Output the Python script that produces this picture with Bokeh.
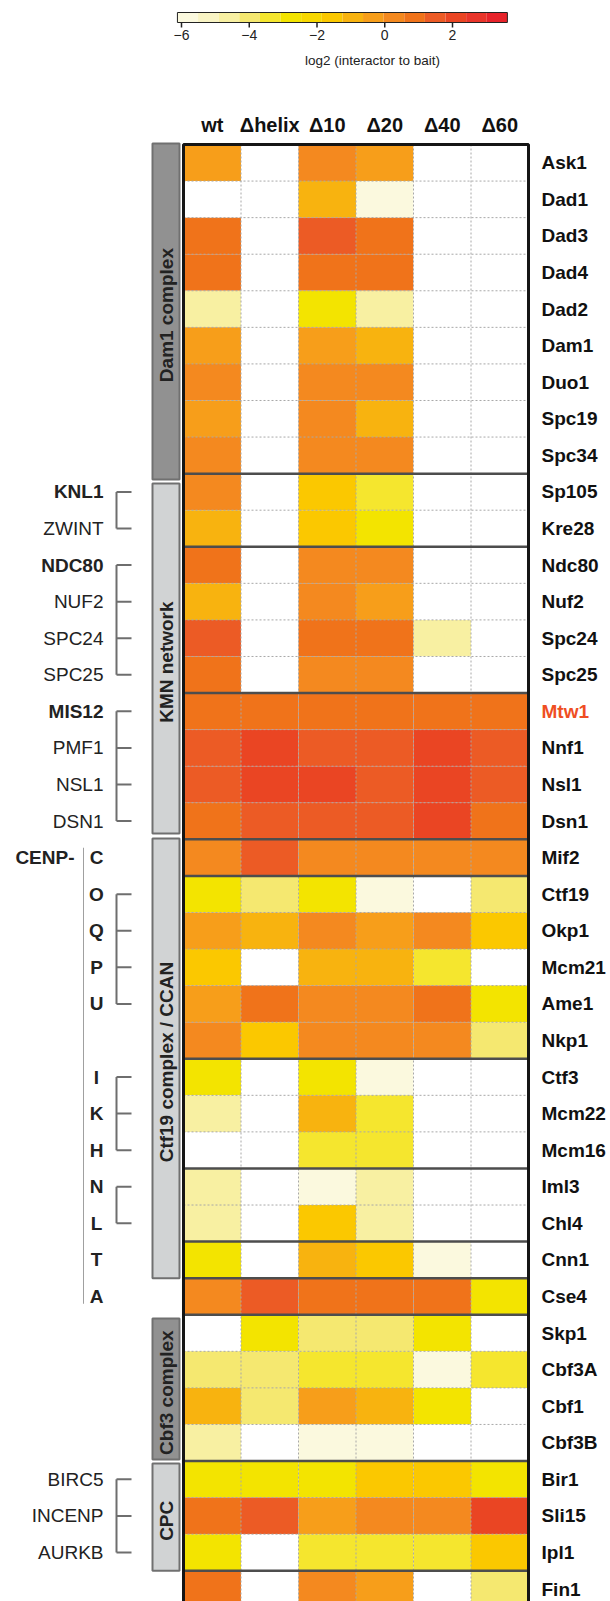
import numpy as np
from bokeh.plotting import figure
from bokeh.models import Range1d, ColumnDataSource, LinearColorMapper
from bokeh.embed import file_html
from bokeh.resources import INLINE
from bokeh.core.properties import value

N = np.nan

# ---------------- data ----------------
columns = ["wt", "Δhelix", "Δ10", "Δ20", "Δ40", "Δ60"]

proteins = ["Ask1", "Dad1", "Dad3", "Dad4", "Dad2", "Dam1", "Duo1", "Spc19", "Spc34",
            "Sp105", "Kre28", "Ndc80", "Nuf2", "Spc24", "Spc25",
            "Mtw1", "Nnf1", "Nsl1", "Dsn1", "Mif2",
            "Ctf19", "Okp1", "Mcm21", "Ame1", "Nkp1", "Ctf3", "Mcm22", "Mcm16",
            "Iml3", "Chl4", "Cnn1", "Cse4",
            "Skp1", "Cbf3A", "Cbf1", "Cbf3B", "Bir1", "Sli15", "Ipl1", "Fin1"]

wt =     [-0.3, N, 0.9, 0.9, -4.6, -0.3, 0.3, -0.3, 0.3,
          0.3, -1.0, 0.9, -1.0, 1.5, 0.9,
          0.9, 1.5, 1.5, 0.9, 0.3,
          -2.8, -0.3, -1.6, -0.3, 0.3, -2.8, -4.6, N,
          -4.6, -4.6, -2.8, 0.3,
          N, -4.0, -1.0, -4.6, -2.8, 0.9, -2.8, 0.9]
dhelix = [N, N, N, N, N, N, N, N, N,
          N, N, N, N, N, N,
          0.9, 2.1, 2.1, 1.5, 1.5,
          -4.0, -1.0, N, 0.9, -1.6, N, N, N,
          N, N, N, 1.5,
          -2.8, -4.0, -4.0, N, -2.8, 1.5, N, N]
d10 =    [0.3, -1.0, 1.5, 0.9, -2.8, -0.3, 0.3, 0.3, 0.3,
          -1.6, -1.6, 0.3, 0.3, 0.9, 0.3,
          0.9, 1.5, 2.1, 1.5, 0.3,
          -2.8, 0.3, -1.0, 0.3, 0.3, -2.8, -1.0, -3.4,
          -5.8, -1.6, -1.0, 0.9,
          -4.0, -3.4, -0.3, -5.8, -2.8, -0.3, -3.4, 0.3]
d20 =    [-0.3, -5.8, 0.9, 0.9, -4.6, -1.0, 0.3, -1.0, 0.3,
          -3.4, -2.8, 0.3, -0.3, 0.9, 0.3,
          0.9, 1.5, 1.5, 1.5, 0.3,
          -5.8, -0.3, -1.0, 0.3, 0.3, -5.8, -3.4, -3.4,
          -4.6, -4.6, -1.6, 0.9,
          -4.0, -3.4, -1.0, -5.8, -1.6, 0.3, -3.4, -0.3]
d40 =    [N, N, N, N, N, N, N, N, N,
          N, N, N, N, -4.6, N,
          0.9, 2.1, 2.1, 2.1, 0.3,
          N, 0.3, -3.4, 0.9, 0.3, N, N, N,
          N, N, -5.8, 0.9,
          -2.8, -5.8, -2.8, N, -1.6, 0.3, -3.4, N]
d60 =    [N, N, N, N, N, N, N, N, N,
          N, N, N, N, N, N,
          0.9, 1.5, 1.5, 0.9, 0.3,
          -4.0, -1.6, N, -2.8, -4.0, N, N, N,
          N, N, N, -2.8,
          N, -3.4, N, N, -2.8, 2.1, -1.6, -4.0]

# group separators (row boundaries drawn as solid lines)
separators = [9, 11, 15, 19, 20, 25, 28, 30, 31, 32, 36, 39]

# complexes (label, first row, last row boundary, dark?)
complexes = [("Dam1 complex", -0.03, 9.16, True),
             ("KMN network", 9.27, 18.84, False),
             ("Ctf19 complex / CCAN", 18.98, 31.0, False),
             ("Cbf3 complex", 32.1, 35.96, True),
             ("CPC", 36.07, 39.0, False)]

# human ortholog labels
human_rows = [9, 10, 11, 12, 13, 14, 15, 16, 17, 18, 36, 37, 38]
human_labels = ["KNL1", "ZWINT", "NDC80", "NUF2", "SPC24", "SPC25",
                "MIS12", "PMF1", "NSL1", "DSN1", "BIRC5", "INCENP", "AURKB"]
human_bold = [True, False, True, False, False, False, True, False, False, False,
              False, False, False]
brackets = [[9, 10], [11, 12, 13, 14], [15, 16, 17, 18],
            [20, 21, 22, 23], [25, 26, 27], [28, 29], [36, 37, 38]]
cenp_rows = [19, 20, 21, 22, 23, 25, 26, 27, 28, 29, 30, 31]
cenp_letters = ["C", "O", "Q", "P", "U", "I", "K", "H", "N", "L", "T", "A"]

cb_ticks = [-6, -4, -2, 0, 2]
cb_low, cb_high = -6.12, 3.62
palette = ["#fbf9de", "#f9f4c4", "#f8f0a2", "#f5e870", "#f5e62e", "#f3e400",
           "#f8d800", "#fbc800", "#f8b30f", "#f79e1a", "#f4891f", "#f0731a",
           "#ec5b25", "#ea4523", "#e9352a", "#e7232a"]

# ---------------- layout helpers (reference pixel -> data units) ----------------
X0, CW = 183.0, 57.5      # heatmap left, column width
Y0, RH = 144.0, 36.57     # heatmap top, row height
def X(px): return (px - X0) / CW
def Y(py): return (py - Y0) / RH

W, H = 610, 1601
FONT = value("Liberation Sans")

p = figure(width=W, height=H, x_range=Range1d(X(0), X(W)),
           y_range=Range1d(Y(H), Y(0)), output_backend="svg",
           toolbar_location=None, min_border=0, x_axis_location=None,
           y_axis_location=None)
p.outline_line_color = None
p.grid.visible = False
p.extra_x_ranges = {"cb": Range1d((0 - 384.25) / 33.875, (W - 384.25) / 33.875)}

mapper = LinearColorMapper(palette=palette, low=cb_low, high=cb_high, nan_color="white")

# ---------------- cells ----------------
series = [wt, dhelix, d10, d20, d40, d60]
xs, ys, vs = [], [], []
for ci, col in enumerate(series):
    for ri, v in enumerate(col):
        xs.append(ci + 0.5); ys.append(ri + 0.5); vs.append(v)
src = ColumnDataSource(dict(x=xs, y=ys, v=vs))
p.rect(x="x", y="y", width=1, height=1, source=src,
       fill_color={"field": "v", "transform": mapper}, line_color=None)

nrows, ncols = len(proteins), len(columns)
# dashed grid
p.segment(x0=list(range(1, ncols)), y0=[0] * (ncols - 1), x1=list(range(1, ncols)),
          y1=[nrows] * (ncols - 1), line_color="#a8a8a8", line_width=1, line_dash="2 2")
hr = [r for r in range(1, nrows) if r not in separators]
p.segment(x0=[0] * len(hr), y0=hr, x1=[ncols] * len(hr), y1=hr,
          line_color="#a8a8a8", line_width=1, line_dash="2 2")
p.segment(x0=[0] * len(separators), y0=separators, x1=[ncols] * len(separators),
          y1=separators, line_color="#4d4d4d", line_width=2.5)
p.quad(left=[0], right=[ncols], top=[0], bottom=[nrows], fill_color=None,
       line_color="#151515", line_width=3)

# column headers
p.text(x=[i + 0.5 for i in range(ncols)], y=[Y(124)] * ncols, text=columns,
       text_font=FONT, text_font_style="bold", text_font_size="20px",
       text_align="center", text_baseline="middle", text_color="#111111")

# row labels
rcolors = ["#ef4e23" if n == "Mtw1" else "#111111" for n in proteins]
p.text(x=[X(541)] * nrows, y=[r + 0.5 for r in range(nrows)], text=proteins,
       text_color=rcolors, text_font=FONT, text_font_style="bold",
       text_font_size="19px", text_align="left", text_baseline="middle")

# complex boxes
for label, r0, r1, dark in complexes:
    fill = "#919191" if dark else "#d1d3d4"
    p.quad(left=[X(152)], right=[X(179)], top=[r0], bottom=[r1], fill_color=fill,
           line_color="#707070", line_width=2)
    p.text(x=[X(165.5)], y=[(r0 + r1) / 2 + 0.1], text=[label], angle=np.pi / 2,
           text_font=FONT, text_font_style="bold", text_font_size="19px",
           text_align="center", text_baseline="middle", text_color="#222222")

# human ortholog labels
for rr, lab, b in zip(human_rows, human_labels, human_bold):
    p.text(x=[X(103)], y=[rr + 0.5], text=[lab], text_font=FONT,
           text_font_style="bold" if b else "normal", text_font_size="19px",
           text_align="right", text_baseline="middle", text_color="#222222")

# brackets
for grp in brackets:
    p.segment(x0=[X(116)], y0=[grp[0] + 0.5], x1=[X(116)], y1=[grp[-1] + 0.5],
              line_color="#6e6e6e", line_width=2)
    p.segment(x0=[X(116)] * len(grp), y0=[g + 0.5 for g in grp],
              x1=[X(131)] * len(grp), y1=[g + 0.5 for g in grp],
              line_color="#6e6e6e", line_width=2)

# CENP letters
p.text(x=[X(74)], y=[19.5], text=["CENP-"], text_font=FONT, text_font_style="bold",
       text_font_size="19px", text_align="right", text_baseline="middle",
       text_color="#222222")
p.segment(x0=[X(83)], y0=[19.5 - 0.27], x1=[X(83)], y1=[31.5 + 0.2],
          line_color="#a0a0a0", line_width=1)
p.text(x=[X(96)] * len(cenp_rows), y=[r + 0.5 for r in cenp_rows], text=cenp_letters,
       text_font=FONT, text_font_style="bold", text_font_size="19px",
       text_align="center", text_baseline="middle", text_color="#222222")

# colour bar
edges = np.linspace(cb_low, cb_high, len(palette) + 1)
p.quad(left=edges[:-1], right=edges[1:], top=[Y(12)] * len(palette),
       bottom=[Y(22)] * len(palette), fill_color=palette, line_color=None,
       x_range_name="cb")
p.quad(left=[cb_low], right=[cb_high], top=[Y(12)], bottom=[Y(22)], fill_color=None,
       line_color="#222222", line_width=1, x_range_name="cb")
p.segment(x0=cb_ticks, y0=[Y(22)] * len(cb_ticks), x1=cb_ticks,
          y1=[Y(27)] * len(cb_ticks), line_color="#222222", line_width=1.5,
          x_range_name="cb")
p.text(x=cb_ticks, y=[Y(34)] * len(cb_ticks),
       text=[str(t).replace("-", "\u2212") for t in cb_ticks], x_range_name="cb",
       text_font=FONT, text_font_size="14px", text_align="center",
       text_baseline="middle", text_color="#222222")
p.text(x=[X(372)], y=[Y(60)], text=["log2 (interactor to bait)"], text_font=FONT,
       text_font_size="13.5px", text_align="center", text_baseline="middle",
       text_color="#222222")

open("out.html", "w").write(file_html(p, INLINE))
